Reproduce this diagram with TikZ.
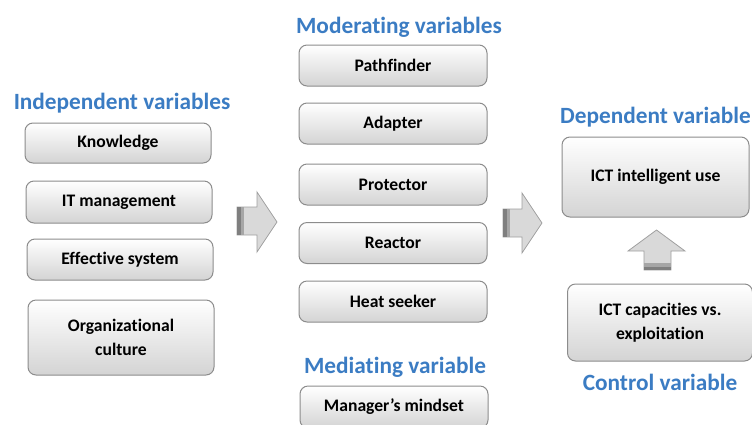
\documentclass[tikz,border=0pt]{standalone}
\usepackage{fontspec}
\setmainfont{Carlito}[Ligatures=NoCommon]
\usepackage{xcolor}
\definecolor{titleblue}{HTML}{3B7CC3}
\definecolor{boxline}{HTML}{8C8C8C}
\definecolor{arrowfill}{HTML}{D9D9D9}
\definecolor{arrowline}{HTML}{A0A0A0}
\definecolor{stripdark}{HTML}{7F7F7F}
\definecolor{stripmid}{HTML}{A6A6A6}
\tikzset{
  varbox/.style={draw=boxline, line width=1pt, rounded corners=8pt,
    top color=white, bottom color=black!17, align=center, inner sep=0pt,
    font=\bfseries\fontsize{17.6}{23.5}\selectfont},
  vartitle/.style={text=titleblue, inner sep=0pt,
    font=\bfseries\fontsize{23.3}{27}\selectfont},
  blockarrow/.style={fill=arrowfill, draw=arrowline, line width=0.8pt, line join=miter}
}

\begin{document}
\begin{tikzpicture}[x=1pt,y=-1pt]
                \useasboundingbox (0,0) rectangle (752,424);
                \clip (0,0) rectangle (752,424);
                % independent variables
                \node[vartitle] (indep) at (122,103) {Independent variables};
                \node[varbox, minimum width=186, minimum height=40] (know) at (118,143) {Knowledge};
                \node[varbox, minimum width=186, minimum height=42] (itman) at (119,202) {IT management};
                \node[varbox, minimum width=186, minimum height=41] (effsys) at (120,259.5) {Effective system};
                \node[varbox, minimum width=186, minimum height=75] (orgcult) at (121,337.5) {Organizational\\culture};
                % moderating variables
                \node[vartitle] (moder) at (399,27) {Moderating variables};
                \foreach \name/\y/\txt in {path/65.5/Pathfinder, adapt/123.5/Adapter, protect/184.5/Protector, react/243/Reactor, heat/301.5/Heat seeker}
                \node[varbox, minimum width=188, minimum height=41] (\name) at (393,\y) {\txt};
                % mediating variable
                \node[vartitle] (medi) at (395,367) {Mediating variable};
                \node[varbox, minimum width=188, minimum height=42] (mindset) at (394,407) {Manager’s mindset};
                % dependent and control variables
                \node[vartitle, anchor=west] (dep) at (560,117) {Dependent variable};
                \node[varbox, minimum width=187, minimum height=80] (ictuse) at (655.5,177) {ICT intelligent use};
                \node[varbox, minimum width=185, minimum height=77] (ictcap) at (660,322.5) {ICT capacities vs.\\exploitation};
                \node[vartitle] (ctrl) at (660,382) {Control variable};
                % block arrows
                \filldraw[blockarrow] (237,207) -- (257,207) -- (257,192) -- (277,222) -- (257,252) -- (257,235) -- (237,235) -- cycle;
                \fill[stripdark] (237.4,207.4) rectangle (240.5,234.6);
                \fill[stripmid] (240.5,207.4) rectangle (244,234.6);
                \filldraw[blockarrow] (503,209) -- (522,209) -- (522,193) -- (542,223) -- (522,253) -- (522,237) -- (503,237) -- cycle;
                \fill[stripdark] (503.4,209.4) rectangle (506.5,236.6);
                \fill[stripmid] (506.5,209.4) rectangle (510,236.6);
                \filldraw[blockarrow] (644,270) -- (644,251) -- (628,251) -- (656.5,230) -- (685,251) -- (671,251) -- (671,270) -- cycle;
                \fill[stripmid] (644.4,263) rectangle (670.6,266.5);
                \fill[stripdark] (644.4,266.5) rectangle (670.6,269.6);
            \end{tikzpicture}
\end{document}
